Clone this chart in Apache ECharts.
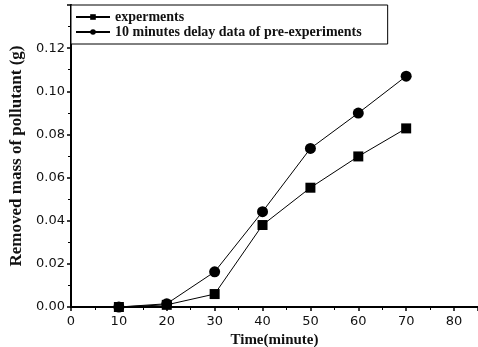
<!DOCTYPE html>
<html>
<head>
<meta charset="utf-8">
<script src="https://cdn.jsdelivr.net/npm/echarts@6/dist/echarts.min.js"></script>
<style>
html,body{margin:0;padding:0;background:#fff;}
#chart{width:478px;height:347px;}
</style>
</head>
<body>
<div id="chart"></div>
<script>
// Sampling times (minute)
const times = [10, 20, 30, 40, 50, 60, 70];
// Removed mass of pollutant (g)
const experiments = [0.000, 0.0010, 0.0060, 0.0380, 0.0553, 0.0698, 0.0828];
const delayed = [0.000, 0.0015, 0.0163, 0.0442, 0.0735, 0.0899, 0.1070];
const seriesNames = ['experments', '10 minutes delay data of pre-experiments'];

const pairs = (xs, ys) => xs.map((x, i) => [x, ys[i]]);

const chart = echarts.init(document.getElementById('chart'));
const serif = '"Liberation Serif", "DejaVu Serif", serif';
const sans = '"DejaVu Sans", Arial, sans-serif';

chart.setOption({
  animation: false,
  backgroundColor: '#fff',
  grid: { left: 71, right: 0, top: 5, bottom: 40, containLabel: false, outerBoundsMode: 'none' },
  legend: {
    left: 71, top: 5,
    orient: 'vertical',
    itemGap: 1,
    itemWidth: 34, itemHeight: 7,
    padding: [5, 26, 5, 4],
    borderColor: '#000', borderWidth: 1,
    backgroundColor: '#fff',
    textStyle: { fontFamily: serif, fontSize: 14, fontWeight: 'bold', color: '#111' },
    data: seriesNames
  },
  xAxis: {
    type: 'value', min: 0, max: 85, interval: 10,
    name: 'Time(minute)', nameLocation: 'middle', nameGap: 19,
    nameTextStyle: { fontFamily: serif, fontSize: 15, fontWeight: 'bold', color: '#111' },
    axisLine: { lineStyle: { color: '#000', width: 2 } },
    axisTick: { inside: false, length: 4, lineStyle: { color: '#000', width: 1.5 } },
    minorTick: { show: true, splitNumber: 2, length: 3, lineStyle: { color: '#000' } },
    splitLine: { show: false },
    axisLabel: {
      margin: 8, fontFamily: sans, fontSize: 13, color: '#111',
      formatter: v => (v % 10 === 0 ? String(v) : '')
    }
  },
  yAxis: {
    type: 'value', min: 0, max: 0.14, interval: 0.02,
    name: 'Removed mass of pollutant (g)', nameLocation: 'middle', nameGap: 40,
    nameTextStyle: { fontFamily: serif, fontSize: 17, fontWeight: 'bold', color: '#111' },
    axisLine: { show: true, lineStyle: { color: '#000', width: 2 } },
    axisTick: { show: true, inside: false, length: 4, lineStyle: { color: '#000', width: 1.5 } },
    minorTick: { show: true, splitNumber: 2, length: 3, lineStyle: { color: '#000' } },
    splitLine: { show: false },
    axisLabel: {
      margin: 6, fontFamily: sans, fontSize: 13, color: '#111',
      formatter: v => (v > 0.13 ? '' : v.toFixed(2))
    }
  },
  series: [
    {
      name: seriesNames[0], type: 'line',
      data: pairs(times, experiments),
      symbol: 'rect', symbolSize: 10,
      itemStyle: { color: '#000' },
      lineStyle: { color: '#000', width: 1 }
    },
    {
      name: seriesNames[1], type: 'line',
      data: pairs(times, delayed),
      symbol: 'circle', symbolSize: 11,
      itemStyle: { color: '#000' },
      lineStyle: { color: '#000', width: 1 }
    }
  ]
});
</script>
</body>
</html>
